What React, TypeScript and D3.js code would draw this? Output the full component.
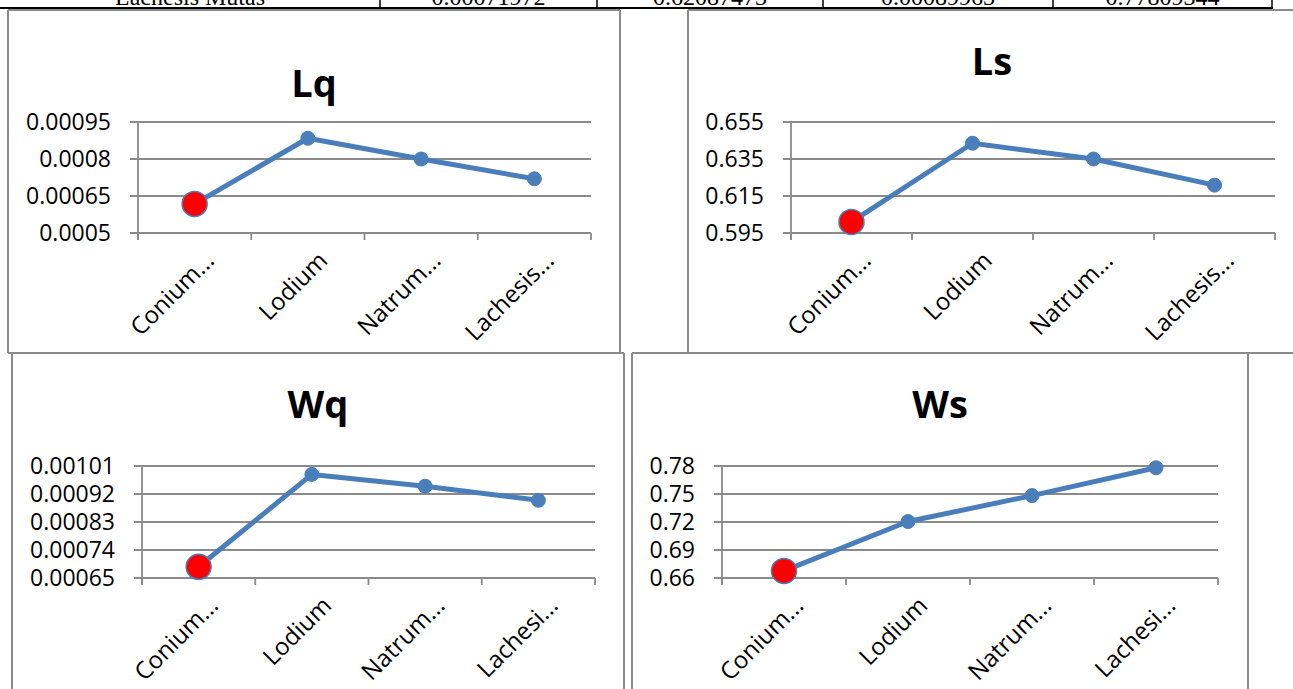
import React from "react";
import * as d3 from "d3";

// ---- data ----
const categoriesTop = ["Conium...", "Lodium", "Natrum...", "Lachesis..."];
const categoriesBottom = ["Conium...", "Lodium", "Natrum...", "Lachesi..."];

const lqValues = [0.000618, 0.000884, 0.0008, 0.00071972];
const lsValues = [0.601, 0.6435, 0.635, 0.62087473];
const wqValues = [0.000686, 0.000983, 0.000945, 0.00089963];
const wsValues = [0.6676, 0.7205, 0.7483, 0.77809344];

const lqTicks = [0.0005, 0.00065, 0.0008, 0.00095];
const lqTickLabels = ["0.0005", "0.00065", "0.0008", "0.00095"];
const lsTicks = [0.595, 0.615, 0.635, 0.655];
const lsTickLabels = ["0.595", "0.615", "0.635", "0.655"];
const wqTicks = [0.00065, 0.00074, 0.00083, 0.00092, 0.00101];
const wqTickLabels = ["0.00065", "0.00074", "0.00083", "0.00092", "0.00101"];
const wsTicks = [0.66, 0.69, 0.72, 0.75, 0.78];
const wsTickLabels = ["0.66", "0.69", "0.72", "0.75", "0.78"];

const tableRowLabel = "Lachesis Mutas";
const tableRowValues = ["0.00071972", "0.62087473", "0.00089963", "0.77809344"];

// ---- styles ----
const FONT = "'Open Sans', 'Liberation Sans', sans-serif";
const GRID = "#8a8a8a";
const BORDER = "#8a8a8a";
const LINE = "#4a7ebb";

type ChartProps = {
  title: string;
  categories: string[];
  values: number[];
  ticks: number[];
  tickLabels: string[];
  box: { x: number; y: number; w: number; h: number; sides: string };
  plot: { left: number; right: number; top: number; bottom: number };
  titlePos: { x: number; y: number };
};

function Chart({ title, categories, values, ticks, tickLabels, box, plot, titlePos }: ChartProps) {
  const y = d3
    .scaleLinear()
    .domain([ticks[0], ticks[ticks.length - 1]])
    .range([plot.bottom, plot.top]);
  const x = d3
    .scaleBand<string>()
    .domain(categories)
    .range([plot.left, plot.right])
    .paddingInner(0)
    .paddingOuter(0);
  const cx = (c: string) => (x(c) as number) + x.bandwidth() / 2;
  const line = d3
    .line<number>()
    .x((_, i) => cx(categories[i]))
    .y((v) => y(v));
  const edges = categories.map((c) => x(c) as number).concat([plot.right]);

  const { x: bx, y: by, w: bw, h: bh, sides } = box;
  return (
    <g>
      {sides.includes("t") && <line x1={bx} y1={by} x2={bx + bw} y2={by} stroke={BORDER} strokeWidth={2} />}
      {sides.includes("l") && <line x1={bx} y1={by} x2={bx} y2={by + bh} stroke={BORDER} strokeWidth={2} />}
      {sides.includes("r") && <line x1={bx + bw} y1={by} x2={bx + bw} y2={by + bh} stroke={BORDER} strokeWidth={2} />}
      {sides.includes("b") && <line x1={bx} y1={by + bh} x2={bx + bw} y2={by + bh} stroke={BORDER} strokeWidth={2} />}

      <text
        x={titlePos.x}
        y={titlePos.y}
        textAnchor="middle"
        fontFamily={FONT}
        fontWeight="bold"
        fontSize={38}
        fill="#000"
      >
        {title}
      </text>

      {ticks.map((t, i) => (
        <g key={"g" + i}>
          <line x1={plot.left - 8} x2={plot.right} y1={y(t)} y2={y(t)} stroke={GRID} strokeWidth={1.8} />
          <text
            x={plot.left - 27}
            y={y(t)}
            dy="0.36em"
            textAnchor="end"
            fontFamily={FONT}
            fontSize={23}
            fill="#000"
          >
            {tickLabels[i]}
          </text>
        </g>
      ))}
      <line x1={plot.left} x2={plot.left} y1={plot.top} y2={plot.bottom + 7} stroke={GRID} strokeWidth={1.8} />
      {edges.map((e, i) => (
        <line key={"t" + i} x1={e} x2={e} y1={plot.bottom} y2={plot.bottom + 7} stroke={GRID} strokeWidth={1.8} />
      ))}
      {categories.map((c, i) => (
        <text
          key={"c" + i}
          transform={`translate(${cx(c) + 21},${plot.bottom + 29}) rotate(-45)`}
          textAnchor="end"
          fontFamily={FONT}
          fontSize={24}
          fill="#000"
        >
          {c}
        </text>
      ))}

      <path d={line(values) as string} fill="none" stroke={LINE} strokeWidth={5} strokeLinejoin="round" />
      {values.map((v, i) =>
        i === 0 ? (
          <circle key={"m" + i} cx={cx(categories[i])} cy={y(v)} r={12.5} fill="#ff0000" stroke={LINE} strokeWidth={1.5} />
        ) : (
          <circle key={"m" + i} cx={cx(categories[i])} cy={y(v)} r={7} fill={LINE} stroke={LINE} strokeWidth={1} />
        )
      )}
    </g>
  );
}

export default function App() {
  const colEdges = [0, 380, 597, 823, 1053, 1272];
  return (
    <div style={{ position: "absolute", left: 0, top: 0, width: 1293, height: 689, background: "#fff" }}>
      <svg width={1293} height={689} style={{ display: "block" }}>
        <rect x={0} y={0} width={1293} height={689} fill="#fff" />
        <line x1={0} x2={1273} y1={8} y2={8} stroke="#000" strokeWidth={2} />
        {colEdges.slice(1).map((e, i) => (
          <line key={"ce" + i} x1={e} x2={e} y1={0} y2={8} stroke="#000" strokeWidth={1.5} />
        ))}
        {[tableRowLabel, ...tableRowValues].map((t, i) => (
          <text
            key={"tv" + i}
            x={(colEdges[i] + colEdges[i + 1]) / 2}
            y={5}
            textAnchor="middle"
            fontFamily="'Liberation Serif', serif"
            fontSize={24}
            fill="#000"
          >
            {t}
          </text>
        ))}

        <Chart
          title="Lq"
          categories={categoriesTop}
          values={lqValues}
          ticks={lqTicks}
          tickLabels={lqTickLabels}
          box={{ x: 8, y: 10, w: 612, h: 343, sides: "tlrb" }}
          plot={{ left: 138, right: 591, top: 122, bottom: 233 }}
          titlePos={{ x: 314, y: 97 }}
        />
        <Chart
          title="Ls"
          categories={categoriesTop}
          values={lsValues}
          ticks={lsTicks}
          tickLabels={lsTickLabels}
          box={{ x: 688, y: 10, w: 620, h: 343, sides: "tlb" }}
          plot={{ left: 791, right: 1275, top: 122, bottom: 233 }}
          titlePos={{ x: 992, y: 75 }}
        />
        <Chart
          title="Wq"
          categories={categoriesBottom}
          values={wqValues}
          ticks={wqTicks}
          tickLabels={wqTickLabels}
          box={{ x: 12, y: 353, w: 612, h: 360, sides: "tlr" }}
          plot={{ left: 142, right: 595, top: 466, bottom: 578 }}
          titlePos={{ x: 318, y: 418 }}
        />
        <Chart
          title="Ws"
          categories={categoriesBottom}
          values={wsValues}
          ticks={wsTicks}
          tickLabels={wsTickLabels}
          box={{ x: 632, y: 353, w: 616, h: 360, sides: "tlr" }}
          plot={{ left: 722, right: 1218, top: 466, bottom: 578 }}
          titlePos={{ x: 940, y: 418 }}
        />
      </svg>
    </div>
  );
}
